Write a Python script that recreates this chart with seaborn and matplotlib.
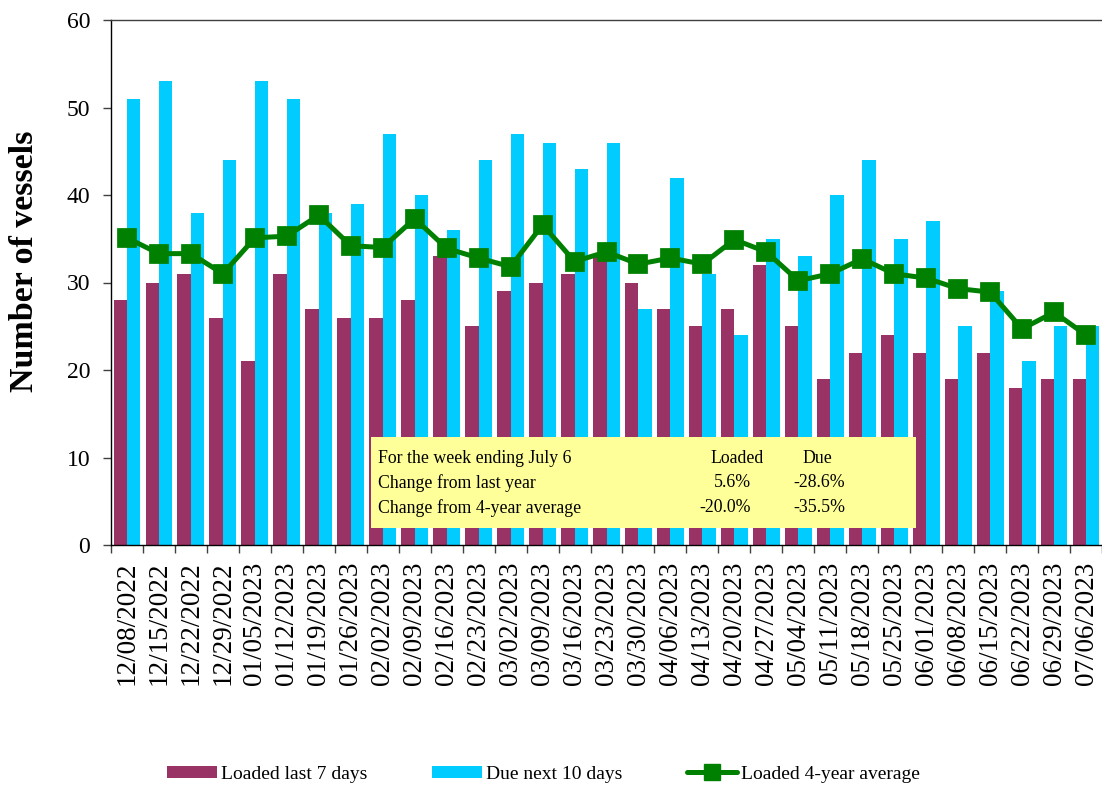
import pandas as pd
import matplotlib
matplotlib.use('Agg')
import matplotlib.pyplot as plt
import seaborn as sns
from matplotlib.patches import Patch, Rectangle
from matplotlib.lines import Line2D
from matplotlib.ticker import MultipleLocator, FixedLocator

# weekly vessel counts
weeks = ['12/08/2022', '12/15/2022', '12/22/2022', '12/29/2022', '01/05/2023',
         '01/12/2023', '01/19/2023', '01/26/2023', '02/02/2023', '02/09/2023',
         '02/16/2023', '02/23/2023', '03/02/2023', '03/09/2023', '03/16/2023',
         '03/23/2023', '03/30/2023', '04/06/2023', '04/13/2023', '04/20/2023',
         '04/27/2023', '05/04/2023', '05/11/2023', '05/18/2023', '05/25/2023',
         '06/01/2023', '06/08/2023', '06/15/2023', '06/22/2023', '06/29/2023',
         '07/06/2023']
loaded = [28, 30, 31, 26, 21, 31, 27, 26, 26, 28, 33, 25, 29, 30, 31, 33,
          30, 27, 25, 27, 32, 25, 19, 22, 24, 22, 19, 22, 18, 19, 19]
due = [51, 53, 38, 44, 53, 51, 38, 39, 47, 40, 36, 44, 47, 46, 43, 46,
       27, 42, 31, 24, 35, 33, 40, 44, 35, 37, 25, 29, 21, 25, 25]
avg4 = [35.1, 33.3, 33.3, 31.0, 35.1, 35.3, 37.7, 34.2, 34.0, 37.3, 33.9,
        32.8, 31.8, 36.6, 32.4, 33.5, 32.1, 32.8, 32.1, 34.9, 33.5, 30.2,
        31.0, 32.7, 31.0, 30.5, 29.3, 28.9, 24.7, 26.6, 24.0]

series_names = ['Loaded last 7 days', 'Due next 10 days', 'Loaded 4-year average']
colors = ['#993366', '#00CCFF', '#008000']

summary_rows = ['For the week ending July 6', 'Change from last year', 'Change from 4-year average']
loaded_change = ['Loaded', '5.6%', '-20.0%']
due_change = ['Due', '-28.6%', '-35.5%']

df = pd.DataFrame({
    'Week': weeks * 2,
    'Vessels': loaded + due,
    'Series': [series_names[0]] * len(weeks) + [series_names[1]] * len(weeks),
})

sns.set_theme(style='white')
plt.rcParams['font.family'] = ['Liberation Serif', 'DejaVu Serif']
plt.rcParams['text.color'] = 'black'
plt.rcParams['xtick.color'] = 'black'
plt.rcParams['ytick.color'] = 'black'
plt.rcParams['axes.labelcolor'] = 'black'

fig = plt.figure(figsize=(11.02, 7.91), dpi=100)
ax = fig.add_axes([111 / 1102, 246 / 791, 991 / 1102, 525 / 791])

sns.barplot(data=df, x='Week', y='Vessels', hue='Series', order=weeks,
            hue_order=series_names[:2], palette=colors[:2], width=0.84,
            gap=0, saturation=1, linewidth=0, legend=False, ax=ax)

sns.pointplot(x=weeks, y=avg4, order=weeks, color=colors[2], markers='s',
              markersize=12, linewidth=3.6, errorbar=None, ax=ax)

# summary box
ax.add_patch(Rectangle((7.63, 1.94), 17.05, 10.4, facecolor='#FFFF99',
                       edgecolor='none', zorder=3))
row_y = [9.94, 7.09, 4.23]
for i, y in enumerate(row_y):
    ax.text(7.85, y, summary_rows[i], fontsize=12.8, va='center', ha='left', zorder=4)
    if i == 0:
        ax.text(19.08, y, loaded_change[i], fontsize=12.8, va='center', ha='center', zorder=4)
        ax.text(21.61, y, due_change[i], fontsize=12.8, va='center', ha='center', zorder=4)
    else:
        ax.text(19.52, y, loaded_change[i], fontsize=12.8, va='center', ha='right', zorder=4)
        ax.text(22.46, y, due_change[i], fontsize=12.8, va='center', ha='right', zorder=4)

ax.set_xlim(-0.5, len(weeks) - 0.5)
ax.set_ylim(0, 60)
ax.yaxis.set_major_locator(MultipleLocator(10))
ax.tick_params(axis='y', direction='out', length=6, width=1, color='#404040',
               labelsize=17, pad=9, left=True)
ax.set_xticks(range(len(weeks)))
ax.set_xticklabels(weeks, rotation=90, fontsize=19.5)
ax.tick_params(axis='x', which='major', length=0, pad=12)
ax.xaxis.set_minor_locator(FixedLocator([i - 0.5 for i in range(len(weeks) + 1)]))
ax.tick_params(axis='x', which='minor', direction='out', length=6, width=1,
               color='#404040', bottom=True)

ax.set_xlabel('')
ax.set_ylabel('Number of vessels', fontsize=24.5, fontweight='bold')
ax.yaxis.set_label_coords(-0.072, 0.54)

for side in ['left', 'bottom']:
    ax.spines[side].set_color('black')
    ax.spines[side].set_linewidth(1)
ax.spines['top'].set_color('#404040')
ax.spines['top'].set_linewidth(1)
ax.spines['right'].set_visible(False)

handles = [
    Patch(facecolor=colors[0], edgecolor='none'),
    Patch(facecolor=colors[1], edgecolor='none'),
    Line2D([0], [0], color=colors[2], lw=3.6, marker='s', markersize=11),
]
fig.legend(handles, series_names, loc='lower center', bbox_to_anchor=(0.493, -0.012),
           ncol=3, frameon=False, fontsize=14, handlelength=2.6, handleheight=0.6,
           handletextpad=0.2, columnspacing=3.3)

plt.savefig('out.png', dpi=100)
plt.close()
